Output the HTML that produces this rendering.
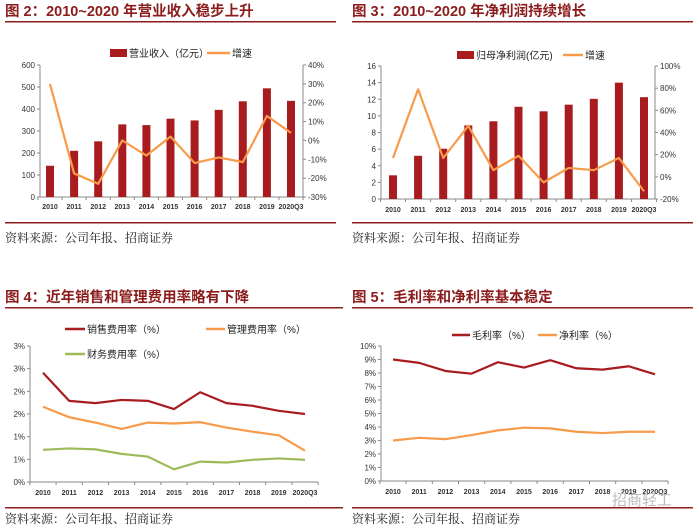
<!DOCTYPE html>
<html><head><meta charset="utf-8"><style>
html,body{margin:0;padding:0;background:#fff;}
svg{display:block;font-family:"Liberation Sans","Noto Sans CJK SC",sans-serif;}
.t{font-family:"Liberation Sans","Noto Sans CJK SC",sans-serif;font-weight:bold;font-size:14.5px;fill:#8c1c1c;}
.src{font-family:"Noto Serif CJK SC","Noto Sans CJK SC",serif;font-size:12px;fill:#222;}
.tk{font-size:8px;fill:#333;}
.cat{font-size:7px;fill:#333;font-weight:bold;}
.lg{font-size:10px;fill:#222;}
</style></head><body>
<svg id="s" width="700" height="532" viewBox="0 0 700 532"></svg>
<script>
const categories=['2010','2011','2012','2013','2014','2015','2016','2017','2018','2019','2020Q3'];
const revenue=[142,210,253,330,327,356,348,396,435,494,437];
const revenueGrowth=[30,-17.5,-23,0,-8,2,-12,-9,-11.5,13,4];
const profit=[2.85,5.2,6.05,8.85,9.35,11.1,10.55,11.35,12.05,14.0,12.25];
const profitGrowth=[17,79,17,46,6,19,-5,8,6,17,-13];
const salesRate=[2.41,1.79,1.74,1.81,1.79,1.61,1.98,1.74,1.68,1.57,1.50];
const mgmtRate=[1.66,1.43,1.31,1.17,1.31,1.29,1.32,1.20,1.11,1.03,0.69];
const finRate=[0.71,0.74,0.72,0.62,0.56,0.28,0.45,0.43,0.49,0.52,0.49];
const grossRate=[9.0,8.75,8.15,7.95,8.8,8.4,8.95,8.35,8.25,8.5,7.9];
const netRate=[3.0,3.2,3.1,3.4,3.75,3.95,3.9,3.65,3.55,3.65,3.65];
const ticks1L=['0','100','200','300','400','500','600'];
const ticks1R=['-30%','-20%','-10%','0%','10%','20%','30%','40%'];
const ticks2L=['0','2','4','6','8','10','12','14','16'];
const ticks2R=['-20%','0%','20%','40%','60%','80%','100%'];
const ticks3L=['0%','1%','1%','2%','2%','3%','3%'];
const ticks4L=['0%','1%','2%','3%','4%','5%','6%','7%','8%','9%','10%'];

const S=document.getElementById('s');const NS='http://www.w3.org/2000/svg';
function el(t,a,txt){const e=document.createElementNS(NS,t);for(const k in a)e.setAttribute(k,a[k]);if(txt!=null)e.textContent=txt;S.appendChild(e);return e;}
const RED='#a81c1f',OR='#f79a4a',GR='#9bbb59',AX='#888';

function scale(d0,d1,p0,p1){return v=>p0+(v-d0)/(d1-d0)*(p1-p0);}
function xcat(x0,x1){return i=>x0+i*(x1-x0)/(categories.length-1);}

function header(x,x2,title,ruleY,srcY,botY){
  let e=el('text',{x:x,y:ruleY-5,class:'t'},title);
  
  e=el('rect',{x:x,y:ruleY,width:x2-x,height:1.5,fill:'#8c1c1c'});
  
  e=el('rect',{x:x,y:botY,width:x2-x,height:1.5,fill:'#8c1c1c'});
  
  e=el('text',{x:x,y:srcY,class:'src'},'资料来源：公司年报、招商证券');
  
}
function leftAxis(x,yTop,yBot,labels,xr){
  let e=el('line',{x1:x,y1:yTop,x2:x,y2:yBot,stroke:AX,'stroke-width':1});
  
  labels.forEach((l,i)=>{const y=yBot-i*(yBot-yTop)/(labels.length-1);
    el('line',{x1:x-3,y1:y,x2:x,y2:y,stroke:AX});
    const t=el('text',{x:x-5,y:y+3,class:'tk','text-anchor':'end'},l);
    });
  e=el('line',{x1:x,y1:yBot,x2:xr,y2:yBot,stroke:AX});
  
}
function rightAxis(x,yTop,yBot,labels){
  let e=el('line',{x1:x,y1:yTop,x2:x,y2:yBot,stroke:AX});
  
  labels.forEach((l,i)=>{const y=yBot-i*(yBot-yTop)/(labels.length-1);
    el('line',{x1:x,y1:y,x2:x+3,y2:y,stroke:AX});
    const t=el('text',{x:x+5,y:y+3,class:'tk'},l);
    });
}
function catLabels(X,y,x0,xr,yAx){
  const step=X(1)-X(0);
  for(let i=0;i<=categories.length;i++){const tx=X(0)-step/2+i*step;el('line',{x1:tx,y1:yAx,x2:tx,y2:yAx+3,stroke:AX});}
  categories.forEach((c,i)=>{const t=el('text',{x:X(i),y:y,class:'cat','text-anchor':'middle'},c);
    });
}
function bars(X,Y,vals,w){vals.forEach((v,i)=>{const e=el('rect',{x:X(i)-w/2,y:Y(v),width:w,height:Y(0)-Y(v),fill:RED});
  });}
function line(X,Y,vals,col,name){const e=el('polyline',{points:vals.map((v,i)=>X(i)+','+Y(v)).join(' '),fill:'none',stroke:col,'stroke-width':2.2,'stroke-linejoin':'round'});
  }
function legLine(x1,x2,y,col,txt){let e=el('line',{x1:x1,y1:y,x2:x2,y2:y,stroke:col,'stroke-width':2.5});
  
  e=el('text',{x:x2+2,y:y+4,class:'lg'},txt);}
function legBar(x1,x2,y,txt){let e=el('rect',{x:x1,y:y-4,width:x2-x1,height:8,fill:RED});
  
  e=el('text',{x:x2+2,y:y+4,class:'lg'},txt);}

// Fig 2
header(5,336,'图 2：2010~2020 年营业收入稳步上升',21,242,222);
{const X=xcat(50,291),Y=scale(0,600,197,65),Y2=scale(-30,40,197,65);
 leftAxis(40,65,197,ticks1L,303);rightAxis(303,65,197,ticks1R);
 bars(X,Y,revenue,8);line(X,Y2,revenueGrowth,OR,'growth-line');catLabels(X,209,40,303,197);
 legBar(110,127,53,'营业收入（亿元）');legLine(207,230,53,OR,'增速');}
// Fig 3
header(352,693,'图 3：2010~2020 年净利润持续增长',21,242,222);
{const X=xcat(393,644),Y=scale(0,16,199,66),Y2=scale(-20,100,199,66);
 leftAxis(381,66,199,ticks2L,655);rightAxis(655,66,199,ticks2R);
 bars(X,Y,profit,8);line(X,Y2,profitGrowth,OR,'growth-line');catLabels(X,212,381,655,199);
 legBar(457,474,55,'归母净利润(亿元)');legLine(563,583,55,OR,'增速');}
// Fig 4
header(5,343,'图 4：近年销售和管理费用率略有下降',307,523,507);
{const X=xcat(43,305),Y=scale(0,3,482,346);
 leftAxis(30,346,482,ticks3L,318);
 line(X,Y,salesRate,RED,'sales-rate-line');line(X,Y,mgmtRate,OR,'mgmt-rate-line');line(X,Y,finRate,GR,'finance-rate-line');
 catLabels(X,495,30,318,482);
 legLine(65,85,329,RED,'销售费用率（%）');legLine(206,225,329,OR,'管理费用率（%）');legLine(65,85,354,GR,'财务费用率（%）');}
// Fig 5
header(352,693,'图 5：毛利率和净利率基本稳定',307,523,507);
{const X=xcat(393,655),Y=scale(0,10,481,346);
 leftAxis(381,346,481,ticks4L,668);
 line(X,Y,grossRate,RED,'gross-margin-line');line(X,Y,netRate,OR,'net-margin-line');
 catLabels(X,494,381,668,481);
 legLine(452,470,335,RED,'毛利率（%）');legLine(538,557,335,OR,'净利率（%）');
 const w=el('text',{x:612,y:505,'font-size':'15px',fill:'#bbb','font-family':'Noto Sans CJK SC,sans-serif'},'招商轻工');
 }
</script>
</body></html>
